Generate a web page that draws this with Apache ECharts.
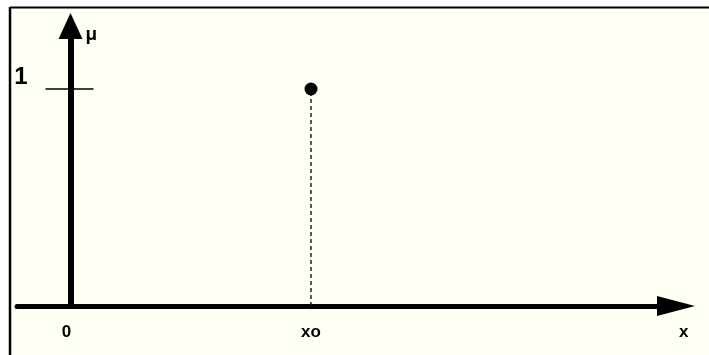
<!DOCTYPE html>
<html>
<head>
<meta charset="utf-8">
<script src="https://cdn.jsdelivr.net/npm/echarts@6/dist/echarts.min.js"></script>
<style>
  html, body { margin: 0; padding: 0; background: #ffffff; }
  #chart { width: 709px; height: 355px; }
</style>
</head>
<body>
<div id="chart"></div>
<script>
// ---- data ----
const xTickValues = [0, 1];
const xTickLabels = ['0', 'xo'];
const yTickValues = [1];
const yTickLabels = ['1'];
const xAxisName = 'x';
const yAxisName = 'μ';
const pointX = [1];      // xo
const pointY = [1];      // membership value at xo
const xRange = [-0.2225, 2.5177];
const yRange = [0, 1.2903];

const FONT = '"Liberation Sans", Arial, sans-serif';

const chart = echarts.init(document.getElementById('chart'), null, { renderer: 'canvas' });

const stemData = [];
pointX.forEach((x, i) => { stemData.push([x, yRange[0]]); stemData.push([x, pointY[i]]); });

const option = {
  animation: false,
  backgroundColor: 'transparent',
  graphic: [
    { type: 'rect', z: -100, silent: true, shape: { x: 10, y: 7.5, width: 720, height: 360 },
      style: { fill: '#fffff3' } },
    { type: 'line', z: -90, silent: true, shape: { x1: 10, y1: 7.5, x2: 720, y2: 7.5 },
      style: { stroke: '#000', lineWidth: 2 } },
    { type: 'line', z: -90, silent: true, shape: { x1: 10, y1: 7, x2: 10, y2: 360 },
      style: { stroke: '#000', lineWidth: 2.5 } }
  ],
  grid: { left: 17, right: 33, top: 26, bottom: 49, containLabel: false, outerBoundsMode: 'none' },
  xAxis: {
    type: 'value', min: xRange[0], max: xRange[1],
    axisLine: { onZero: false, symbol: ['none', 'triangle'], symbolSize: [20, 38],
      lineStyle: { color: '#000', width: 5 } },
    axisTick: { show: false },
    splitLine: { show: false },
    axisLabel: {
      customValues: xTickValues, margin: 18, color: '#000',
      fontFamily: FONT, fontWeight: 'bold', fontSize: 17, lineHeight: 17,
      formatter: (v) => { const i = xTickValues.indexOf(v); const t = i >= 0 ? xTickLabels[i] : ''; return v === 0 ? '{z|' + t + '}' : t; },
      rich: { z: { padding: [0, 8, 0, 0], fontFamily: FONT, fontWeight: 'bold', fontSize: 17, color: '#000' } }
    },
    name: xAxisName, nameLocation: 'end', nameGap: 3,
    nameTextStyle: { color: '#000', fontFamily: FONT, fontWeight: 'bold', fontSize: 17, lineHeight: 17,
      verticalAlign: 'top', align: 'left', padding: [18, 0, 0, 0] }
  },
  yAxis: [{
    type: 'value', min: yRange[0], max: yRange[1], position: 'left', offset: -53.5,
    axisLine: { onZero: false, symbol: ['none', 'triangle'], symbolSize: [24, 26],
      lineStyle: { color: '#000', width: 6 } },
    axisTick: { show: true, customValues: yTickValues, length: 25, lineStyle: { color: '#000', width: 1.5 } },
    splitLine: { show: false },
    axisLabel: {
      customValues: yTickValues, margin: 43, color: '#000',
      fontFamily: FONT, fontWeight: 'bold', fontSize: 24, lineHeight: 24, verticalAlign: 'bottom',
      formatter: (v) => { const i = yTickValues.indexOf(v); return i >= 0 ? yTickLabels[i] : ''; }
    },
    name: yAxisName, nameLocation: 'end', nameGap: -18,
    nameTextStyle: { color: '#000', fontFamily: FONT, fontWeight: 'bold', fontSize: 19, lineHeight: 19,
      align: 'left', verticalAlign: 'bottom', padding: [0, 0, 0, 15] }
  }, {
    type: 'value', min: yRange[0], max: yRange[1], position: 'left', offset: -53.5,
    axisLine: { show: false, onZero: false },
    axisTick: { show: true, inside: true, customValues: yTickValues, length: 23, lineStyle: { color: '#000', width: 1.5 } },
    axisLabel: { show: false },
    splitLine: { show: false }
  }],
  series: [{
    type: 'line', data: stemData, symbol: 'none', z: 1,
    lineStyle: { color: '#222', width: 1.5, type: [4, 3] }
  }, {
    type: 'scatter', data: pointX.map((x, i) => [x, pointY[i]]), symbol: 'circle', symbolSize: 13, z: 3,
    itemStyle: { color: '#000', opacity: 1 }
  }]
};
chart.setOption(option);
</script>
</body>
</html>
